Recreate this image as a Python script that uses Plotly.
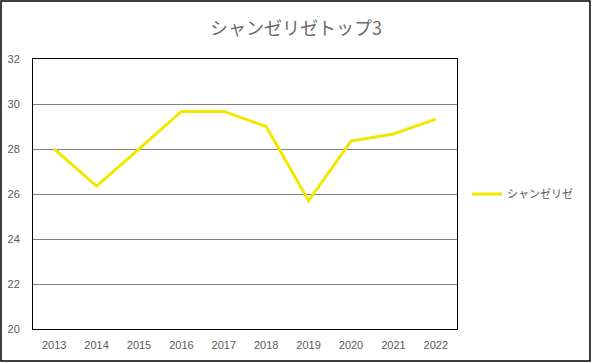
import plotly.graph_objects as go

years = ["2013", "2014", "2015", "2016", "2017", "2018", "2019", "2020", "2021", "2022"]
values = [28.0, 26.35, 28.0, 29.67, 29.67, 29.0, 25.7, 28.35, 28.67, 29.33]
series_name = "シャンゼリゼ"
title_text = "シャンゼリゼトップ3"

W, H = 592, 363
L, R, T, B = 33, 135, 59, 34
pw, ph = W - L - R, H - T - B

def px(x):
    return (x - L) / pw

def py(y):
    return (H - B - y) / ph

fig = go.Figure()
fig.add_trace(go.Scatter(
    x=years, y=values, mode="lines", name=series_name,
    line=dict(color="#F2E700", width=3),
))

fig.update_layout(
    width=W, height=H,
    margin=dict(l=L, r=R, t=T, b=B, autoexpand=False),
    paper_bgcolor="white", plot_bgcolor="white",
    font=dict(family="Noto Sans CJK JP, Liberation Sans, sans-serif", color="#595959", size=11),
    title=dict(text=title_text, x=0.5, xref="container", xanchor="center",
               y=1 - 29 / H, yref="container", yanchor="middle",
               font=dict(size=18, color="#6a6a6a", family="Noto Sans CJK JP")),
    showlegend=True,
    legend=dict(x=px(467), xanchor="left", y=0.5, yanchor="middle",
                font=dict(size=11, color="#595959", family="Noto Sans CJK JP"),
                bgcolor="rgba(0,0,0,0)"),
    xaxis=dict(type="category", range=[-0.5, len(years) - 0.5], automargin=False,
               showline=True, linecolor="black", linewidth=1, mirror=True,
               showgrid=False, ticks="", ticklabelstandoff=6,
               tickfont=dict(family="Liberation Sans, Arial", size=11, color="#595959")),
    yaxis=dict(range=[20, 32], dtick=2, tick0=20, automargin=False,
               showline=True, linecolor="black", linewidth=1, mirror=True,
               showgrid=True, gridcolor="#808080", gridwidth=1, zeroline=False,
               ticks="", ticklabelstandoff=10,
               tickfont=dict(family="Liberation Sans, Arial", size=11, color="#595959")),
    shapes=[dict(type="rect", xref="paper", yref="paper",
                 x0=px(1), x1=px(590), y0=py(361), y1=py(1),
                 line=dict(color="black", width=1.5), fillcolor="rgba(0,0,0,0)",
                 layer="below")],
)

fig.write_html("out.html", config={"displayModeBar": False},
               post_script="document.body.style.margin='0';document.body.style.padding='0';")
